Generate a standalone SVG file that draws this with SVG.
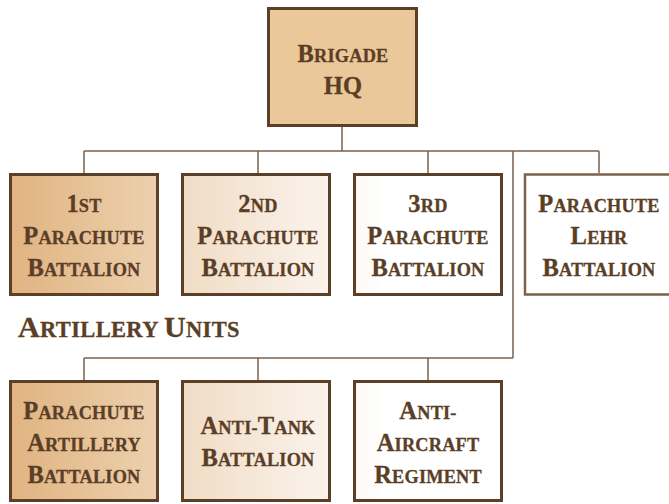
<svg xmlns="http://www.w3.org/2000/svg" width="669" height="504" viewBox="0 0 669 504">
  <style>
    .box { stroke: #5b3f27; stroke-width: 3; }
    .box4 { fill: #ffffff; stroke: #7b624b; stroke-width: 2.5; }
    .t { font-family: "Liberation Serif", "Times New Roman", serif; font-weight: bold; font-size: 18.3px; letter-spacing: 0.2px; fill: #5a3e26; stroke: #5a3e26; stroke-width: 0.3; text-anchor: middle; }
    .t .b { font-size: 24.5px; }
    .h { font-family: "Liberation Serif", "Times New Roman", serif; font-weight: bold; font-size: 22.5px; letter-spacing: 0.35px; fill: #5a3e26; stroke: #5a3e26; stroke-width: 0.3; }
    .h .b { font-size: 30px; }
    .c { stroke: #7a624c; stroke-width: 1.5; fill: none; }
  </style>
  <defs>
    <linearGradient id="g1" gradientUnits="userSpaceOnUse" x1="9" y1="0" x2="385" y2="0">
      <stop offset="0" stop-color="#e1b381"/>
      <stop offset="0.4" stop-color="#ecd1ae"/>
      <stop offset="0.46" stop-color="#f0dcc5"/>
      <stop offset="0.86" stop-color="#fbf4ed"/>
      <stop offset="1" stop-color="#ffffff"/>
    </linearGradient>
  </defs>
  <rect width="669" height="504" fill="#ffffff"/>
  <g id="connectors">
    <path class="c" d="M342 127 V151 M84 151 H599 M84 151 V173 M258 151 V173 M428 151 V173 M599 151 V173 M513 151 V358 M84 358 H513 M84 358 V380 M258 358 V380 M428 358 V380"/>
  </g>
  <g id="hq">
    <rect class="box" x="268.5" y="8.5" width="148" height="117" fill="#ebc899"/>
    <text class="t" x="343" y="62"><tspan class="b">B</tspan>RIGADE</text>
    <text class="t" x="343" y="94"><tspan class="b">HQ</tspan></text>
  </g>
  <g id="bn1">
    <rect class="box" x="10.5" y="174.5" width="147" height="120" fill="url(#g1)"/>
    <text class="t" x="84" y="212"><tspan class="b">1</tspan>ST</text>
    <text class="t" x="84" y="244"><tspan class="b">P</tspan>ARACHUTE</text>
    <text class="t" x="84" y="276"><tspan class="b">B</tspan>ATTALION</text>
  </g>
  <g id="bn2">
    <rect class="box" x="182.5" y="174.5" width="147" height="120" fill="url(#g1)"/>
    <text class="t" x="258" y="212"><tspan class="b">2</tspan>ND</text>
    <text class="t" x="258" y="244"><tspan class="b">P</tspan>ARACHUTE</text>
    <text class="t" x="258" y="276"><tspan class="b">B</tspan>ATTALION</text>
  </g>
  <g id="bn3">
    <rect class="box" x="354.5" y="174.5" width="147" height="120" fill="url(#g1)"/>
    <text class="t" x="428" y="212"><tspan class="b">3</tspan>RD</text>
    <text class="t" x="428" y="244"><tspan class="b">P</tspan>ARACHUTE</text>
    <text class="t" x="428" y="276"><tspan class="b">B</tspan>ATTALION</text>
  </g>
  <g id="lehr">
    <rect class="box4" x="525" y="174.5" width="148" height="120"/>
    <text class="t" x="599" y="212"><tspan class="b">P</tspan>ARACHUTE</text>
    <text class="t" x="599" y="244"><tspan class="b">L</tspan>EHR</text>
    <text class="t" x="599" y="276"><tspan class="b">B</tspan>ATTALION</text>
  </g>
  <g id="artillery-label">
    <text class="h" x="18" y="337"><tspan class="b">A</tspan>RTILLERY <tspan class="b">U</tspan>NITS</text>
  </g>
  <g id="art1">
    <rect class="box" x="10.5" y="381.5" width="147" height="119" fill="url(#g1)"/>
    <text class="t" x="84" y="419"><tspan class="b">P</tspan>ARACHUTE</text>
    <text class="t" x="84" y="451"><tspan class="b">A</tspan>RTILLERY</text>
    <text class="t" x="84" y="483"><tspan class="b">B</tspan>ATTALION</text>
  </g>
  <g id="art2">
    <rect class="box" x="182.5" y="381.5" width="147" height="119" fill="url(#g1)"/>
    <text class="t" x="258" y="434"><tspan class="b">A</tspan>NTI-<tspan class="b">T</tspan>ANK</text>
    <text class="t" x="258" y="466"><tspan class="b">B</tspan>ATTALION</text>
  </g>
  <g id="art3">
    <rect class="box" x="354.5" y="381.5" width="147" height="119" fill="url(#g1)"/>
    <text class="t" x="428" y="419"><tspan class="b">A</tspan>NTI-</text>
    <text class="t" x="428" y="451"><tspan class="b">A</tspan>IRCRAFT</text>
    <text class="t" x="428" y="483"><tspan class="b">R</tspan>EGIMENT</text>
  </g>
</svg>
